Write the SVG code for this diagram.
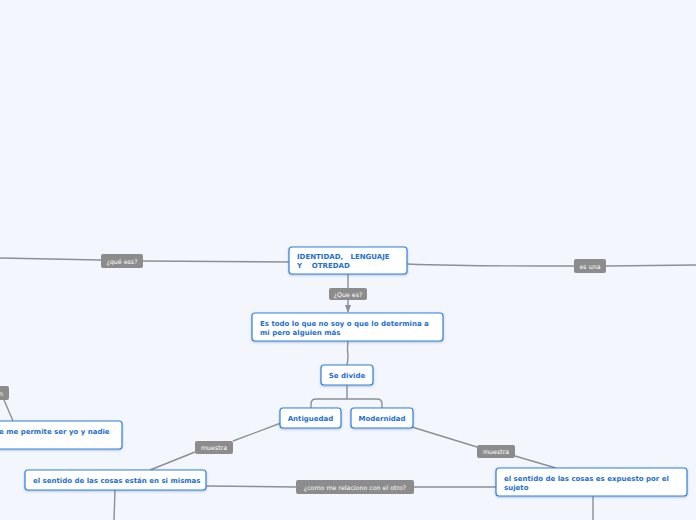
<svg xmlns="http://www.w3.org/2000/svg" width="696" height="520" viewBox="0 0 696 520">
<defs>
<filter id="sh" x="-10%" y="-20%" width="120%" height="150%">
<feDropShadow dx="0" dy="1" stdDeviation="0.8" flood-color="#5a7fb0" flood-opacity="0.45"/>
</filter>
<marker id="arr" markerWidth="8" markerHeight="6" refX="7" refY="3" orient="auto" markerUnits="userSpaceOnUse">
<path d="M0,0 L8,3 L0,6 z" fill="#8a8f99"/>
</marker>
</defs>
<style>
.node rect{fill:#ffffff;stroke:#2f83de;stroke-width:1.2;filter:url(#sh)}
.node text{font-family:"DejaVu Sans",Verdana,sans-serif;font-weight:bold;font-size:7px;fill:#1f6fcf;white-space:pre}
.lbl rect{fill:#8c8c8c}
.lbl text{font-family:"DejaVu Sans",sans-serif;font-size:6.3px;fill:#ffffff}
.con path{fill:none;stroke:#8a8f99;stroke-width:1.4}
</style>
<rect width="696" height="520" fill="#f3f6fd"/>
<g id="connectors" class="con">
<path d="M289,262 L143,261 M101,260 L0,258"/>
<path d="M407,264 Q460,266 540,266 L574,266 M606,266 L696,265"/>
<path d="M348,274 L348,312" marker-end="url(#arr)"/>
<path d="M348,341 Q347,350 348,355 Q348,360 347,365"/>
<path d="M347,385 L347,399 M316,399 L377,399 Q382,399 382,404 L382,408 M316,399 Q311,399 311,404 L311,408"/>
<path d="M281,423 L233,441 M195,452 L150,470"/>
<path d="M412,427 L477,447 M515,456 L556,468"/>
<path d="M206,486 L296,487 M414,487 L496,487"/>
<path d="M115,490 L114,520"/>
<path d="M593,496 L593,520"/>
<path d="M4,400 L13,421"/>
</g>
<g id="n-main" class="node">
<rect x="289" y="247" width="118" height="27" rx="3"/>
<text x="297" y="259" xml:space="preserve">IDENTIDAD,   LENGUAJE</text>
<text x="297" y="268" xml:space="preserve">Y    OTREDAD</text>
</g>
<g id="l-quees" class="lbl">
<rect x="329" y="288" width="38" height="12" rx="2"/>
<text x="348" y="296.5" text-anchor="middle">¿Que es?</text>
</g>
<g id="n-estodo" class="node">
<rect x="252" y="313" width="191" height="28" rx="3"/>
<text x="260" y="326">Es todo lo que no soy o que lo determina a</text>
<text x="260" y="335">mi pero alguien más</text>
</g>
<g id="n-sedivide" class="node">
<rect x="321" y="365" width="52" height="20" rx="3"/>
<text x="347" y="378" text-anchor="middle">Se divide</text>
</g>
<g id="n-antiguedad" class="node">
<rect x="280" y="408" width="61" height="20" rx="3"/>
<text x="310.5" y="421" text-anchor="middle">Antiguedad</text>
</g>
<g id="n-modernidad" class="node">
<rect x="351" y="408" width="62" height="20" rx="3"/>
<text x="382" y="421" text-anchor="middle">Modernidad</text>
</g>
<g id="l-muestra1" class="lbl">
<rect x="195" y="441" width="38" height="13" rx="2"/>
<text x="214" y="450" text-anchor="middle">muestra</text>
</g>
<g id="l-muestra2" class="lbl">
<rect x="477" y="445" width="38" height="13" rx="2"/>
<text x="496" y="454" text-anchor="middle">muestra</text>
</g>
<g id="n-mismas" class="node">
<rect x="25" y="470" width="181" height="20" rx="3"/>
<text x="33" y="483">el sentido de las cosas están en si mismas</text>
</g>
<g id="n-sujeto" class="node">
<rect x="496" y="468" width="191" height="28" rx="3"/>
<text x="504" y="481">el sentido de las cosas es expuesto por el</text>
<text x="504" y="490">sujeto</text>
</g>
<g id="l-como" class="lbl">
<rect x="296" y="480" width="118" height="14" rx="2"/>
<text x="355" y="489.5" text-anchor="middle">¿como me relaciono con el otro?</text>
</g>
<g id="l-queess" class="lbl">
<rect x="101" y="254" width="42" height="14" rx="2"/>
<text x="122" y="263.5" text-anchor="middle">¿qué ess?</text>
</g>
<g id="l-esuna" class="lbl">
<rect x="574" y="259" width="32" height="14" rx="2"/>
<text x="590" y="268.5" text-anchor="middle">es una</text>
</g>
<g id="n-left" class="node">
<rect x="-10" y="421" width="132" height="28" rx="3"/>
<text x="-1" y="434">e me permite ser yo y nadie</text>
</g>
<g id="l-left" class="lbl">
<rect x="-6" y="386" width="15" height="14" rx="2"/>
<text x="1" y="395.5" text-anchor="middle">n</text>
</g>
</svg>
